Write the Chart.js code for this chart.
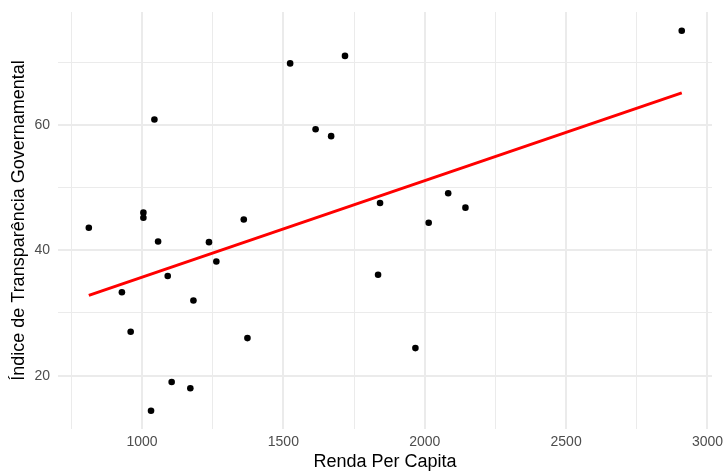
<!DOCTYPE html>
<html>
<head>
<meta charset="utf-8">
<script src="https://cdn.jsdelivr.net/npm/chart.js@4"></script>
<style>
  body { margin: 0; background: #fff; }
  #wrap { width: 724px; height: 471px; }
</style>
</head>
<body>
<div id="wrap"><canvas id="chart"></canvas></div>
<script>
// Renda per capita vs índice de transparência
const renda = [812, 929, 960, 1005, 1005, 1044, 1057, 1032, 1091, 1105, 1171, 1182, 1237, 1263,
  1360, 1373, 1524, 1614, 1669, 1718, 1835, 1842, 1967, 2014, 2083, 2144, 2909];
const indice = [43.6, 33.3, 27.0, 46.0, 45.2, 60.85, 41.4, 14.4, 35.9, 19.0, 18.0, 32.0, 41.3, 38.2,
  44.9, 26.0, 69.8, 59.3, 58.2, 71.0, 36.1, 47.55, 24.4, 44.4, 49.1, 46.8, 75.0];

// reta de regressão (extremos)
const fitX = [812, 2909];
const fitY = [32.8, 65.1];

const xTicksShown = [1000, 1500, 2000, 2500, 3000];
const yTicksShown = [20, 40, 60];

Chart.defaults.font.family = "'Liberation Sans', Arial, sans-serif";

const points = renda.map((x, i) => ({ x: x, y: indice[i] }));
const fitLine = fitX.map((x, i) => ({ x: x, y: fitY[i] }));

const ctx = document.getElementById('chart').getContext('2d');
new Chart(ctx, {
  type: 'scatter',
  data: {
    datasets: [
      {
        type: 'line',
        data: fitLine,
        borderColor: '#ff0000',
        borderWidth: 3,
        pointRadius: 0,
        fill: false
      },
      {
        data: points,
        backgroundColor: '#000',
        borderColor: '#000',
        pointRadius: 3.3,
        borderWidth: 0
      }
    ]
  },
  options: {
    responsive: true,
    maintainAspectRatio: false,
    animation: false,
    layout: { padding: { top: 12, right: 12, left: 0, bottom: 0 } },
    plugins: { legend: { display: false }, tooltip: { enabled: false } },
    scales: {
      x: {
        type: 'linear',
        min: 703,
        max: 3016,
        border: { display: false },
        grid: {
          drawTicks: false,
          color: '#ebebeb',
          lineWidth: (c) => xTicksShown.includes(c.tick.value) ? 2 : 1
        },
        ticks: {
          stepSize: 250,
          includeBounds: false,
          autoSkip: false,
          maxRotation: 0,
          padding: 5,
          color: '#4d4d4d',
          font: { size: 14 },
          callback: (v) => xTicksShown.includes(v) ? String(v) : ''
        },
        title: {
          display: true,
          text: 'Renda Per Capita',
          color: '#000',
          font: { size: 18, lineHeight: 1 },
          padding: { top: 0, bottom: 0 }
        },
        afterFit: (scale) => {
          scale.height = 42;
          scale.paddingLeft = 0;
          scale.paddingRight = 0;
        }
      },
      y: {
        min: 11.5,
        max: 78,
        border: { display: false },
        grid: {
          drawTicks: false,
          color: '#ebebeb',
          lineWidth: (c) => yTicksShown.includes(c.tick.value) ? 2 : 1
        },
        ticks: {
          stepSize: 10,
          includeBounds: false,
          autoSkip: false,
          padding: 8,
          color: '#4d4d4d',
          font: { size: 14 },
          callback: (v) => yTicksShown.includes(v) ? String(v) : ''
        },
        title: {
          display: true,
          text: 'Índice de Transparência Governamental',
          color: '#000',
          font: { size: 18, lineHeight: 1 },
          padding: { top: 10, bottom: 0 }
        },
        afterFit: (scale) => {
          scale.width = 58;
          scale.paddingTop = 0;
          scale.paddingBottom = 0;
        }
      }
    }
  }
});
</script>
</body>
</html>
